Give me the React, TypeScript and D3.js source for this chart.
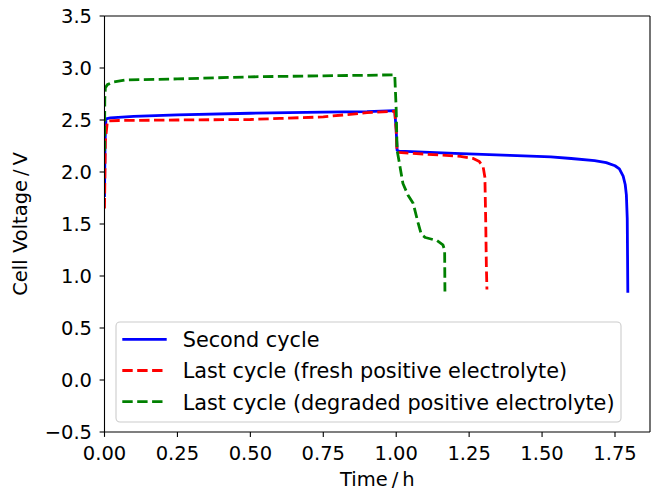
import React from "react";
import * as d3 from "d3";

const blueT = [0, 0.002, 0.005, 0.02, 0.1, 0.25, 0.5, 0.75, 0.9, 0.995, 1.0, 1.003, 1.01, 1.2, 1.39, 1.53, 1.6, 1.68, 1.72, 1.75, 1.765, 1.778, 1.785, 1.789, 1.792, 1.793, 1.794];
const blueV = [1.76, 2.3, 2.51, 2.52, 2.535, 2.55, 2.565, 2.575, 2.58, 2.59, 2.4, 2.21, 2.2, 2.18, 2.16, 2.145, 2.13, 2.11, 2.09, 2.06, 2.03, 1.96, 1.88, 1.78, 1.55, 1.2, 0.84];

const redT = [0, 0.003, 0.01, 0.05, 0.25, 0.5, 0.6, 0.75, 0.9, 0.995, 1.0, 1.003, 1.05, 1.17, 1.22, 1.264, 1.285, 1.298, 1.304, 1.307, 1.309, 1.311];
const redV = [1.65, 2.3, 2.49, 2.495, 2.5, 2.505, 2.515, 2.53, 2.57, 2.585, 2.4, 2.19, 2.18, 2.16, 2.15, 2.13, 2.1, 2.05, 1.95, 1.5, 1.1, 0.87];

const greenT = [0, 0.001, 0.003, 0.01, 0.03, 0.074, 0.25, 0.5, 0.75, 0.9, 0.995, 1.0, 1.003, 1.01, 1.023, 1.04, 1.058, 1.075, 1.086, 1.1, 1.14, 1.16, 1.166, 1.167];
const greenV = [2.2, 2.7, 2.81, 2.84, 2.865, 2.885, 2.895, 2.915, 2.925, 2.93, 2.935, 2.6, 2.21, 2.1, 1.89, 1.78, 1.7, 1.51, 1.4, 1.37, 1.34, 1.3, 1.25, 0.85];

const xTicks = [0, 0.25, 0.5, 0.75, 1.0, 1.25, 1.5, 1.75];
const yTicks = [-0.5, 0, 0.5, 1.0, 1.5, 2.0, 2.5, 3.0, 3.5];

const series = [
  { name: "Second cycle", t: blueT, v: blueV, color: "#0000ff", dash: "" },
  { name: "Last cycle (fresh positive electrolyte)", t: redT, v: redV, color: "#ff0000", dash: "10.4,4.5" },
  { name: "Last cycle (degraded positive electrolyte)", t: greenT, v: greenV, color: "#008000", dash: "10.4,4.5" },
];

const W = 651, H = 490;
const L = 104.5, R = 650, T = 16, B = 432;
const FONT = "DejaVu Sans, sans-serif";
const FS = 19.5;
const LFS = 20.8;

export default function App() {
  const x = d3.scaleLinear().domain([0, 1.87]).range([L, R]);
  const y = d3.scaleLinear().domain([-0.5, 3.5]).range([B, T]);
  const line = d3.line<[number, number]>().x((d) => x(d[0])).y((d) => y(d[1]));

  return (
    <svg width={W} height={H} style={{ position: "absolute", left: 0, top: 0, background: "#fff" }} fontFamily={FONT}>
      <defs>
        <clipPath id="clip">
          <rect x={L} y={T} width={R - L} height={B - T} />
        </clipPath>
      </defs>
      <g clipPath="url(#clip)">
        {series.map((s) => (
          <path
            key={s.name}
            d={line(s.t.map((t, i) => [t, s.v[i]] as [number, number])) || ""}
            fill="none"
            stroke={s.color}
            strokeWidth={2.8}
            strokeDasharray={s.dash || undefined}
            strokeLinejoin="round"
          />
        ))}
      </g>
      {/* spines */}
      <g stroke="#000" strokeWidth={1.1} fill="none">
        <line x1={L} y1={T} x2={R} y2={T} />
        <line x1={L} y1={B} x2={R} y2={B} />
        <line x1={L} y1={T} x2={L} y2={B} />
        <line x1={R} y1={T} x2={R} y2={B} />
      </g>
      {/* x ticks */}
      {xTicks.map((t) => (
        <g key={"x" + t}>
          <line x1={x(t)} x2={x(t)} y1={B} y2={B + 4.9} stroke="#000" strokeWidth={1.1} />
          <text x={x(t)} y={459.5} textAnchor="middle" fontSize={FS} fill="#000">
            {t.toFixed(2)}
          </text>
        </g>
      ))}
      {/* y ticks */}
      {yTicks.map((t) => (
        <g key={"y" + t}>
          <line x1={L - 4.9} x2={L} y1={y(t)} y2={y(t)} stroke="#000" strokeWidth={1.1} />
          <text x={92} y={y(t) + 7.1} textAnchor="end" fontSize={FS} fill="#000">
            {t < 0 ? "\u2212" + Math.abs(t).toFixed(1) : t.toFixed(1)}
          </text>
        </g>
      ))}
      {/* axis labels */}
      <text x={(L + R) / 2} y={486} textAnchor="middle" fontSize={FS} fill="#000">
        Time{"\u2009"}/{"\u2009"}h
      </text>
      <text
        transform={`translate(27,${(T + B) / 2}) rotate(-90)`}
        textAnchor="middle"
        fontSize={FS}
        fill="#000"
      >
        Cell Voltage{"\u2009"}/{"\u2009"}V
      </text>
      {/* legend */}
      <rect x={116} y={322} width={505} height={100} rx={4} fill="#fff" fillOpacity={0.8} stroke="#cccccc" strokeWidth={1.1} />
      {series.map((s, i) => {
        const ry = 339.3 + i * 31.2;
        return (
          <g key={"lg" + i}>
            <line x1={122.3} x2={166.7} y1={ry} y2={ry} stroke={s.color} strokeWidth={2.8} strokeDasharray={s.dash || undefined} />
            <text x={182.7} y={ry + 7.8} fontSize={LFS} fill="#000">
              {s.name}
            </text>
          </g>
        );
      })}
    </svg>
  );
}
